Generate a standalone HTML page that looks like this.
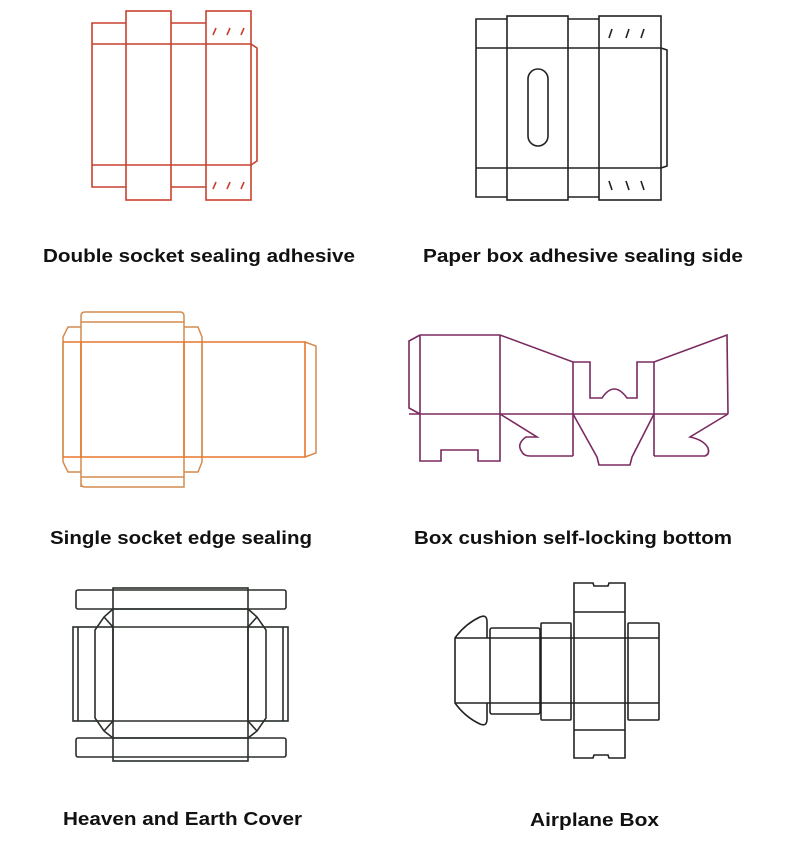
<!DOCTYPE html>
<html><head><meta charset="utf-8"><style>
html,body{margin:0;padding:0;background:#fff}
svg{display:block}
text{font-family:"Liberation Sans",sans-serif;font-weight:bold;font-size:18px;fill:#111}
</style></head><body>
<svg width="790" height="859" viewBox="0 0 790 859" xmlns="http://www.w3.org/2000/svg">
<!-- Diagram 1 -->
<g fill="none" stroke="#c8412f" stroke-width="1.6">
<rect x="126" y="11" width="45" height="189"/>
<rect x="206" y="11" width="45" height="189"/>
<path d="M126 23H92V187H126M171 23H206M171 187H206"/>
<path d="M92 44H251M92 165H251"/>
<path d="M251 44L257 48V161L251 165"/>
<path d="M213 35L216 28M227 35L230 28M241 35L244 28M213 189L216 182M227 189L230 182M241 189L244 182"/>
</g>
<!-- Diagram 2 -->
<g fill="none" stroke="#222" stroke-width="1.6">
<rect x="507" y="16" width="61" height="184"/>
<rect x="599" y="16" width="62" height="184"/>
<path d="M507 19H476V197H507M568 19H599M568 197H599"/>
<path d="M476 48H661M476 168H661"/>
<path d="M661 48L667 50V166L661 168"/>
<rect x="528" y="69" width="20" height="77" rx="10"/>
<path d="M609 38L612 29M626 38L629 29M641 38L644 29M609 181L612 190M626 181L629 190M641 181L644 190"/>
</g>
<!-- Diagram 3 -->
<g fill="none" stroke="#d48b4f" stroke-width="1.5">
<path d="M81 487V316Q81 312 85 312H180Q184 312 184 316V487Q184 487 180 487H85Q81 487 81 483Z"/>
<path d="M81 322H184M81 477H184"/>
<path d="M81 327H68L63 337V462L68 472H81M184 327H198L202 337V462L198 472H184"/>
<path d="M63 342V457M202 342V457"/>
<path d="M305 342L316 346V453L305 457"/>
</g>
<g fill="none" stroke="#e8772e" stroke-width="1.6">
<path d="M63 342H305V457H63"/>
<path d="M81 342V457M184 342V457"/>
</g>
<!-- Diagram 4 -->
<g fill="none" stroke="#7a2a60" stroke-width="1.6">
<path d="M420 335L409 341V408L420 414"/>
<path d="M409 414H728"/>
<path d="M420 335H500L573 362H590V398H602Q614 380 627 398H637V362H654L727 335L728 414"/>
<path d="M420 335V461H441V450H478V461H500V414"/>
<path d="M500 335V414M573 362V456M654 362V456"/>
<path d="M500 414L537 437H526Q516 444 522 452Q524 456 530 456H573"/>
<path d="M573 414L597 457L599 465H630L632 457L654 414"/>
<path d="M654 456H705Q710 454 708 448Q704 440 690 437L728 414"/>
</g>
<!-- Diagram 5 -->
<g fill="none" stroke="#2a2f2a" stroke-width="1.6">
<rect x="113" y="588" width="135" height="173"/>
<rect x="76" y="590" width="210" height="19" rx="2"/>
<rect x="76" y="738" width="210" height="19" rx="2"/>
<path d="M113 609H248M113 627H248M113 721H248M113 738H248"/>
<rect x="73" y="627" width="40" height="94"/>
<rect x="248" y="627" width="40" height="94"/>
<path d="M78 627V721M283 627V721"/>
<path d="M113 609L104 617L95 630V718L104 731L113 738M104 617L113 627M104 731L113 721"/>
<path d="M248 609L257 617L266 630V718L257 731L248 738M257 617L248 627M257 731L248 721"/>
</g>
<!-- Diagram 6 -->
<g fill="none" stroke="#222" stroke-width="1.6">
<path d="M455 638H659M455 703H659"/>
<path d="M487 638V622Q487 614 480 617Q465 624 455 638V703Q465 717 480 724Q487 727 487 719V703"/>
<rect x="490" y="628" width="50" height="86" rx="2"/>
<rect x="541" y="623" width="30" height="97" rx="1"/>
<rect x="628" y="623" width="31" height="97" rx="1"/>
<path d="M574 758V583H593L594 586H608L609 583H625V758H609L608 755H594L593 758Z"/>
<path d="M574 612H625M574 730H625"/>
</g>
<!-- Labels -->
<text x="43" y="262" textLength="312" lengthAdjust="spacingAndGlyphs">Double socket sealing adhesive</text>
<text x="423" y="262" textLength="320" lengthAdjust="spacingAndGlyphs">Paper box adhesive sealing side</text>
<text x="50" y="544" textLength="262" lengthAdjust="spacingAndGlyphs">Single socket edge sealing</text>
<text x="414" y="544" textLength="318" lengthAdjust="spacingAndGlyphs">Box cushion self-locking bottom</text>
<text x="63" y="825" textLength="239" lengthAdjust="spacingAndGlyphs">Heaven and Earth Cover</text>
<text x="530" y="826" textLength="129" lengthAdjust="spacingAndGlyphs">Airplane Box</text>
</svg>
</body></html>
